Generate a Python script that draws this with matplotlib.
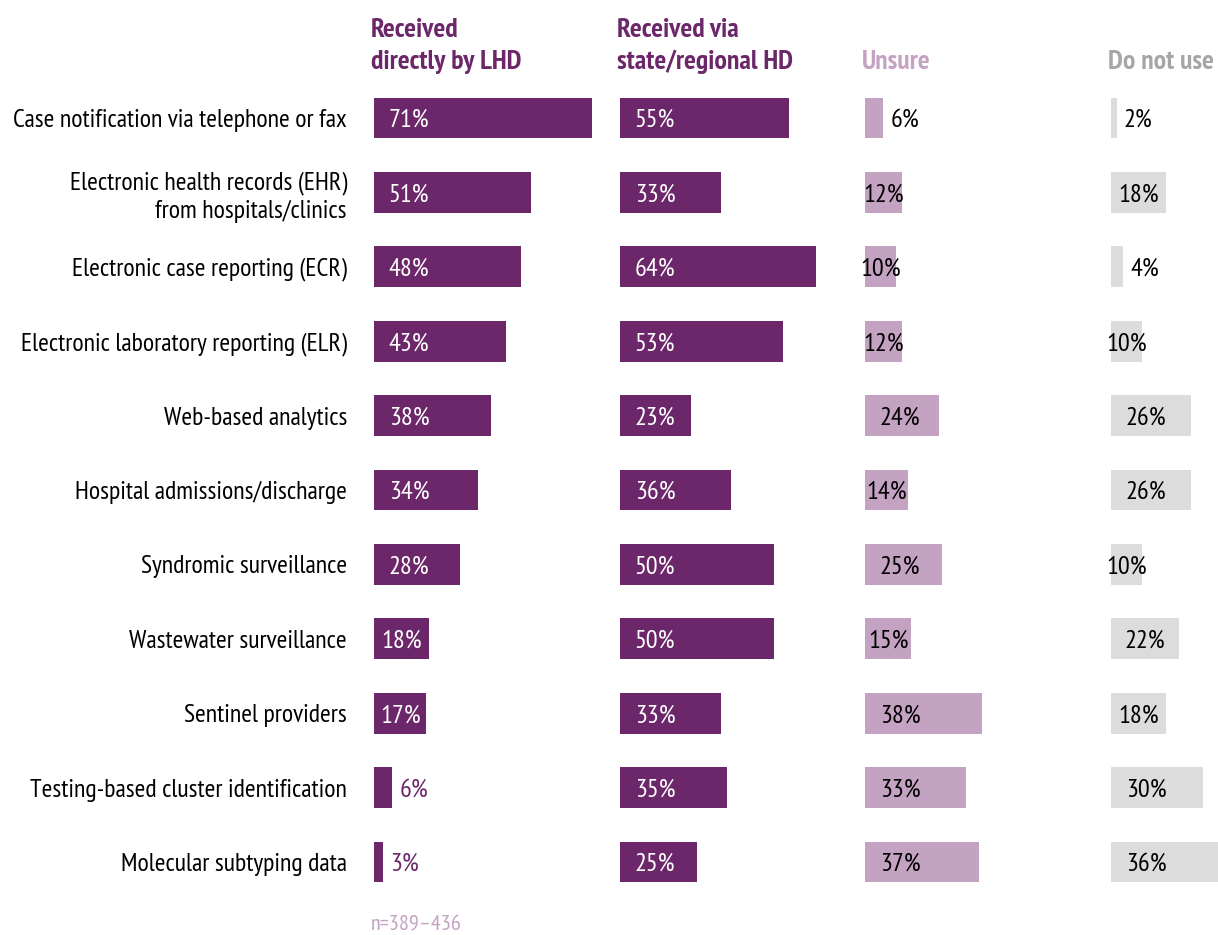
import matplotlib.pyplot as plt

categories = [
    "Case notification via telephone or fax",
    "Electronic health records (EHR)\nfrom hospitals/clinics",
    "Electronic case reporting (ECR)",
    "Electronic laboratory reporting (ELR)",
    "Web-based analytics",
    "Hospital admissions/discharge",
    "Syndromic surveillance",
    "Wastewater surveillance",
    "Sentinel providers",
    "Testing-based cluster identification",
    "Molecular subtyping data",
]
direct_lhd = [71, 51, 48, 43, 38, 34, 28, 18, 17, 6, 3]
via_state = [55, 33, 64, 53, 23, 36, 50, 50, 33, 35, 25]
unsure = [6, 12, 10, 12, 24, 14, 25, 15, 38, 33, 37]
do_not_use = [2, 18, 4, 10, 26, 26, 10, 22, 18, 30, 36]

headers = ["Received\ndirectly by LHD", "Received via\nstate/regional HD", "Unsure", "Do not use"]
note = "n=389\u2013436"

DARK = "#6b2769"
LIGHT = "#c4a2c2"
GREY = "#dcdcdc"
HEAD_GREY = "#a6a6a6"

plt.rcParams["font.family"] = ["PT Sans Narrow", "DejaVu Sans"]

W, H = 1218, 935
fig = plt.figure(figsize=(W / 100, H / 100), dpi=100)

px_per_pct = 3.07
row_h = 74.4
top_px = 118 - row_h / 2
n = len(categories)
bottom_px = top_px + n * row_h

panels = [
    (374, direct_lhd, DARK, "white", DARK, DARK),
    (620, via_state, DARK, "white", DARK, DARK),
    (865, unsure, LIGHT, "black", "black", LIGHT),
    (1111, do_not_use, GREY, "black", "black", HEAD_GREY),
]

fs_row = 18.6
fs_val = 19
fs_head = 20
for i, (left, vals, col, in_col, out_col, head_col) in enumerate(panels):
    width = (panels[i + 1][0] - left) if i < 3 else (W - left)
    ax = fig.add_axes([left / W, 1 - bottom_px / H, width / W, (bottom_px - top_px) / H])
    ax.set_xlim(0, width / px_per_pct)
    ax.set_ylim(n - 0.5, -0.5)
    ys = list(range(n))
    ax.barh(ys, vals, height=0.55, color=col)
    for y, v in zip(ys, vals):
        txt = f"{v}%"
        if v < 9:
            # too narrow for the label, put it just past the bar end
            ax.text(v + 2.2, y + 0.035, txt, va="center", ha="left", fontsize=fs_val, color=out_col)
        else:
            x0 = min(4.8, v / 2 - 6.5)
            ax.text(x0, y + 0.035, txt, va="center", ha="left", fontsize=fs_val, color=in_col)
    for s in ax.spines.values():
        s.set_visible(False)
    ax.set_xticks([])
    if i == 0:
        ax.set_yticks(ys)
        ax.set_yticklabels(categories, fontsize=fs_row, ha="right", linespacing=1.25)
        ax.tick_params(axis="y", length=0, pad=19.5)
    else:
        ax.set_yticks([])
    fig.text((left - 3) / W, 1 - 74 / H, headers[i], ha="left", va="bottom",
             fontsize=fs_head, fontweight="bold", color=head_col, linespacing=1.4)

fig.text(371 / W, 1 - 925 / H, note, ha="left", va="center", fontsize=16, color=LIGHT)

fig.savefig("out.png", dpi=100)
